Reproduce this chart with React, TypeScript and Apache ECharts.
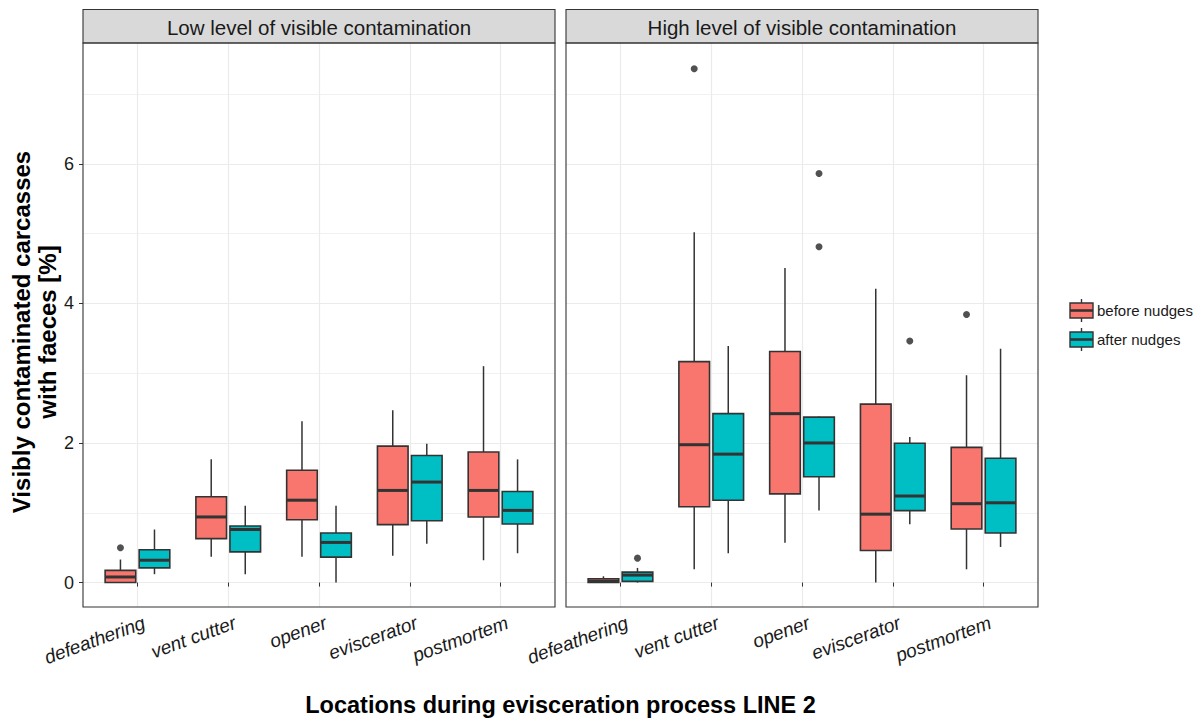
import React, { useEffect, useRef } from 'react';
import * as echarts from 'echarts';

// Categories along the x axis of each facet
const locations = ['defeathering', 'vent cutter', 'opener', 'eviscerator', 'postmortem'];
const panelTitles = ['Low level of visible contamination', 'High level of visible contamination'];
const groupNames = ['before nudges', 'after nudges'];
const groupColors = ['#F8766D', '#00BFC4'];
const yTickValues = [0, 2, 4, 6];

// Five-number summaries per location: [lower whisker, Q1, median, Q3, upper whisker]
const lowBefore = [
  [0.0, 0.0, 0.08, 0.175, 0.33],
  [0.37, 0.63, 0.94, 1.23, 1.765],
  [0.37, 0.9, 1.18, 1.61, 2.31],
  [0.385, 0.83, 1.32, 1.955, 2.47],
  [0.32, 0.94, 1.32, 1.87, 3.1],
];
const lowAfter = [
  [0.12, 0.21, 0.32, 0.47, 0.76],
  [0.12, 0.44, 0.76, 0.81, 1.1],
  [0.0, 0.365, 0.575, 0.71, 1.1],
  [0.555, 0.885, 1.44, 1.82, 1.99],
  [0.42, 0.84, 1.034, 1.305, 1.765],
];
const highBefore = [
  [0.0, 0.0, 0.02, 0.055, 0.09],
  [0.19, 1.086, 1.975, 3.165, 5.02],
  [0.57, 1.27, 2.42, 3.31, 4.506],
  [0.0, 0.46, 0.98, 2.557, 4.21],
  [0.19, 0.767, 1.13, 1.937, 2.97],
];
const highAfter = [
  [0.0, 0.017, 0.107, 0.15, 0.21],
  [0.42, 1.18, 1.84, 2.42, 3.39],
  [1.034, 1.516, 2.0, 2.37, 2.38],
  [0.835, 1.03, 1.24, 1.995, 2.085],
  [0.51, 0.71, 1.143, 1.78, 3.35],
];

// Outliers: [location index, value]
const lowBeforeOutliers = [[0, 0.5]];
const lowAfterOutliers: number[][] = [];
const highBeforeOutliers = [[1, 7.36], [4, 3.84]];
const highAfterOutliers = [[0, 0.35], [2, 5.86], [2, 4.81], [3, 3.46]];

const FONT = 'Liberation Sans, Arial, Helvetica, sans-serif';
const INK = '#1a1a1a';
const LINE = '#333333';
const GRID_LINE = '#EBEBEB';

const panels = [
  { left: 83, before: lowBefore, after: lowAfter, outBefore: lowBeforeOutliers, outAfter: lowAfterOutliers },
  { left: 566, before: highBefore, after: highAfter, outBefore: highBeforeOutliers, outAfter: highAfterOutliers },
];
const PANEL_TOP = 43;
const PANEL_W = 472;
const PANEL_H = 564;
const STRIP_TOP = 9.5;

const DODGE = 0.1875;
const BOX_W = 0.3375;
// rotated category labels hang a little to the right of their tick
const LABEL_NUDGE = 0.04;
const categoryTicks = locations.map((_l, i) => i + 1);

function boxRenderer(color: string, shift: number) {
  return (_params: any, api: any) => {
    const x = api.value(0) + shift;
    const lo = api.coord([x, api.value(1)]);
    const q1 = api.coord([x, api.value(2)]);
    const med = api.coord([x, api.value(3)]);
    const q3 = api.coord([x, api.value(4)]);
    const hi = api.coord([x, api.value(5)]);
    const half = api.size([BOX_W, 0])[0] / 2;
    const cx = med[0];
    return {
      type: 'group',
      children: [
        { type: 'line', shape: { x1: cx, y1: q1[1], x2: cx, y2: lo[1] }, style: { stroke: LINE, lineWidth: 1.5 } },
        { type: 'line', shape: { x1: cx, y1: q3[1], x2: cx, y2: hi[1] }, style: { stroke: LINE, lineWidth: 1.5 } },
        {
          type: 'rect',
          shape: { x: cx - half, y: q3[1], width: half * 2, height: q1[1] - q3[1] },
          style: { fill: color, stroke: LINE, lineWidth: 1.6 },
        },
        { type: 'line', shape: { x1: cx - half, y1: med[1], x2: cx + half, y2: med[1] }, style: { stroke: LINE, lineWidth: 3 } },
      ],
    };
  };
}

function legendKey(y: number, color: string, label: string) {
  const cx = 1081.5;
  return [
    { type: 'line', silent: true, shape: { x1: cx, y1: y - 11.5, x2: cx, y2: y + 11.5 }, style: { stroke: LINE, lineWidth: 1.4 } },
    { type: 'rect', silent: true, shape: { x: 1070, y: y - 7.5, width: 23, height: 15 }, style: { fill: color, stroke: LINE, lineWidth: 1.4 } },
    { type: 'line', silent: true, shape: { x1: 1070, y1: y, x2: 1093, y2: y }, style: { stroke: LINE, lineWidth: 2.6 } },
    {
      type: 'text',
      silent: true,
      x: 1097,
      y: y,
      style: { text: label, fontSize: 15, fontFamily: FONT, fill: INK, textAlign: 'left', textVerticalAlign: 'middle' },
    },
  ];
}

export default function App() {
  const ref = useRef<HTMLDivElement>(null);

  useEffect(() => {
    if (!ref.current) return;
    const chart = echarts.init(ref.current, undefined, { renderer: 'svg' });

    const grid = panels.map((p) => ({ left: p.left, top: PANEL_TOP, width: PANEL_W, height: PANEL_H, containLabel: false }));

    const xAxis = panels.map((_p, g) => ({
      type: 'value',
      gridIndex: g,
      min: 0.4,
      max: 5.6,
      minInterval: 1,
      maxInterval: 1,
      axisLine: { show: false },
      axisTick: { show: true, length: 4, customValues: categoryTicks, lineStyle: { color: LINE, width: 1 } },
      axisLabel: {
        customValues: categoryTicks.map((v) => v + LABEL_NUDGE),
        formatter: (v: number) => locations[Math.round(v - LABEL_NUDGE) - 1] ?? '',
        rotate: 20,
        align: 'right',
        verticalAlign: 'top',
        margin: 6,
        fontSize: 19,
        fontStyle: 'italic',
        fontFamily: FONT,
        color: INK,
      },
      splitLine: { show: true, lineStyle: { color: GRID_LINE, width: 1.2 } },
    }));

    const yAxis = panels.map((_p, g) => ({
      type: 'value',
      gridIndex: g,
      min: -0.35,
      max: 7.73,
      minInterval: 2,
      maxInterval: 2,
      axisLine: { show: false },
      axisTick: { show: g === 0, length: 4, customValues: yTickValues, lineStyle: { color: LINE, width: 1 } },
      axisLabel: {
        show: g === 0,
        customValues: yTickValues,
        formatter: (v: number) => String(v),
        margin: 9,
        fontSize: 18,
        fontFamily: FONT,
        color: INK,
      },
      splitLine: { show: true, lineStyle: { color: GRID_LINE, width: 1.2 } },
      minorTick: { show: false, splitNumber: 2 },
      minorSplitLine: { show: true, lineStyle: { color: GRID_LINE, width: 0.7 } },
    }));

    const series: any[] = [];
    panels.forEach((p, g) => {
      [p.before, p.after].forEach((summary, k) => {
        const shift = k === 0 ? -DODGE : DODGE;
        series.push({
          type: 'custom',
          name: groupNames[k],
          xAxisIndex: g,
          yAxisIndex: g,
          renderItem: boxRenderer(groupColors[k], shift),
          encode: { x: 0, y: [1, 2, 3, 4, 5] },
          data: summary.map((s, i) => [i + 1, ...s]),
          z: 2,
        });
      });
      [p.outBefore, p.outAfter].forEach((outs, k) => {
        const shift = k === 0 ? -DODGE : DODGE;
        series.push({
          type: 'scatter',
          name: groupNames[k] + ' outliers',
          xAxisIndex: g,
          yAxisIndex: g,
          symbol: 'circle',
          symbolSize: 7,
          itemStyle: { color: '#262626' },
          data: outs.map(([i, v]) => [i + 1 + shift, v]),
          z: 3,
        });
      });
    });

    const graphic: any[] = [];
    panels.forEach((p, g) => {
      graphic.push({
        type: 'rect',
        silent: true,
        z: 10,
        shape: { x: p.left, y: STRIP_TOP, width: PANEL_W, height: PANEL_TOP - STRIP_TOP },
        style: { fill: '#D9D9D9', stroke: LINE, lineWidth: 1.1 },
      });
      graphic.push({
        type: 'text',
        silent: true,
        z: 11,
        x: p.left + PANEL_W / 2,
        y: (STRIP_TOP + PANEL_TOP) / 2 + 1,
        style: {
          text: panelTitles[g],
          fontSize: 20.5,
          fontFamily: FONT,
          fill: INK,
          textAlign: 'center',
          textVerticalAlign: 'middle',
        },
      });
      graphic.push({
        type: 'rect',
        silent: true,
        z: 10,
        shape: { x: p.left, y: PANEL_TOP, width: PANEL_W, height: PANEL_H },
        style: { fill: 'rgba(0,0,0,0)', stroke: LINE, lineWidth: 1.1 },
      });
    });
    graphic.push({
      type: 'text',
      silent: true,
      x: 34,
      y: 332,
      rotation: Math.PI / 2,
      style: {
        text: 'Visibly contaminated carcasses\nwith faeces [%]',
        fontSize: 24,
        fontWeight: 'bold',
        lineHeight: 26,
        fontFamily: FONT,
        fill: '#000',
        textAlign: 'center',
        textVerticalAlign: 'middle',
      },
    });
    graphic.push({
      type: 'text',
      silent: true,
      x: (panels[0].left + panels[1].left + PANEL_W) / 2,
      y: 705,
      style: {
        text: 'Locations during evisceration process LINE 2',
        fontSize: 23.5,
        fontWeight: 'bold',
        fontFamily: FONT,
        fill: '#000',
        textAlign: 'center',
        textVerticalAlign: 'middle',
      },
    });
    graphic.push(...legendKey(310.5, groupColors[0], groupNames[0]));
    graphic.push(...legendKey(339.5, groupColors[1], groupNames[1]));

    chart.setOption({
      animation: false,
      backgroundColor: '#ffffff',
      grid,
      xAxis,
      yAxis,
      series,
      graphic,
    });

    return () => chart.dispose();
  }, []);

  return <div ref={ref} style={{ position: 'absolute', left: 0, top: 0, width: 1195, height: 720 }} />;
}
